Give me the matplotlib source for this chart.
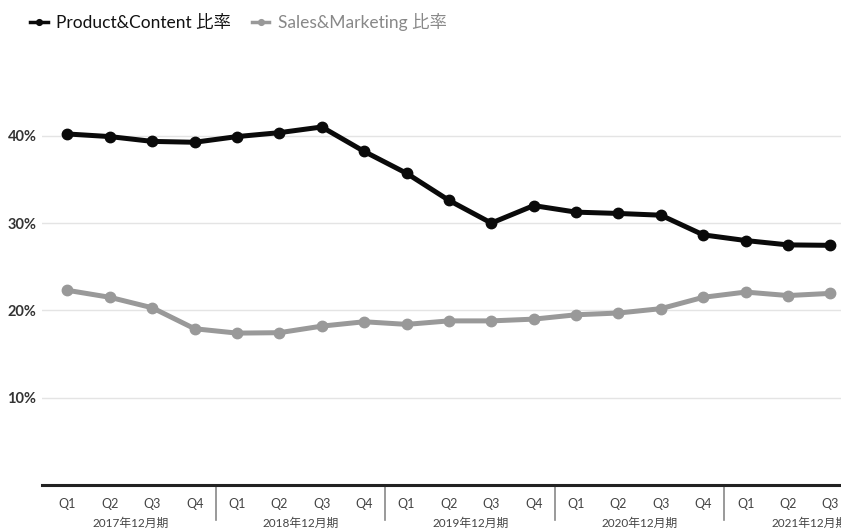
import matplotlib
matplotlib.use('Agg')
import matplotlib.pyplot as plt
import matplotlib.ticker as mticker
import matplotlib.transforms as mtransforms

FONT = ['Lato', 'Noto Sans CJK JP', 'DejaVu Sans']
plt.rcParams['font.family'] = FONT

years = ['2017年12月期', '2018年12月期', '2019年12月期', '2020年12月期', '2021年12月期']
quarters = ['Q1', 'Q2', 'Q3', 'Q4'] * 4 + ['Q1', 'Q2', 'Q3']

product_content = [40.2, 39.9, 39.35, 39.25, 39.9, 40.35, 41.0, 38.2, 35.7, 32.6,
                   30.0, 32.0, 31.25, 31.1, 30.9, 28.65, 28.0, 27.5, 27.45]
sales_marketing = [22.3, 21.5, 20.3, 17.9, 17.4, 17.45, 18.2, 18.7, 18.4, 18.8,
                   18.8, 19.0, 19.5, 19.7, 20.2, 21.5, 22.1, 21.7, 21.95]

x = list(range(len(quarters)))

fig = plt.figure(figsize=(8.41, 5.29), dpi=100)
ax = fig.add_axes([0.05, 0.083, 0.95, 0.743])

ax.plot(x, product_content, color='#0a0a0a', lw=3.6, marker='o', ms=7.5,
        label='Product&Content 比率', zorder=3)
ax.plot(x, sales_marketing, color='#999999', lw=3.6, marker='o', ms=7.5,
        label='Sales&Marketing 比率', zorder=3)

ax.set_xlim(-0.6, 18.25)
ax.set_ylim(0, 45)

ax.set_yticks([10, 20, 30, 40])
ax.yaxis.set_major_formatter(mticker.FuncFormatter(lambda v, _: f'{v:.0f}%'))
ax.grid(axis='y', color='#e4e4e4', lw=1)
ax.set_axisbelow(True)
ax.tick_params(axis='y', length=0, pad=4, labelsize=10.5, labelcolor='#333333')
for lab in ax.get_yticklabels():
    lab.set_fontweight('bold')

ax.set_xticks(x)
ax.set_xticklabels(quarters)
ax.tick_params(axis='x', length=0, pad=9, labelsize=9, labelcolor='#444444')

for side in ['top', 'right', 'left']:
    ax.spines[side].set_visible(False)
ax.spines['bottom'].set_color('#222222')
ax.spines['bottom'].set_linewidth(2.2)

# year separators and fiscal-year labels under the quarter ticks
trans = mtransforms.blended_transform_factory(ax.transData, ax.transAxes)
for k, year in enumerate(years):
    start = 4 * k
    if k > 0:
        ax.plot([start - 0.5, start - 0.5], [0, -0.09], transform=trans,
                color='#888888', lw=1.2, clip_on=False)
    ax.text(start + 1.5, -0.097, year, transform=trans,
            ha='center', va='center', fontsize=8.5, color='#444444')

leg = ax.legend(loc='center left', bbox_to_anchor=(0.036, 1 - 22 / 529),
                bbox_transform=fig.transFigure, ncol=2, frameon=False,
                handlelength=1.0, handletextpad=0.5, columnspacing=1.2,
                borderpad=0, borderaxespad=0, fontsize=12.5, markerscale=0.55)
leg.get_texts()[0].set_color('#111111')
leg.get_texts()[1].set_color('#888888')
for h in leg.legend_handles:
    h.set_linewidth(2.5)

fig.savefig('out.png', dpi=100)
